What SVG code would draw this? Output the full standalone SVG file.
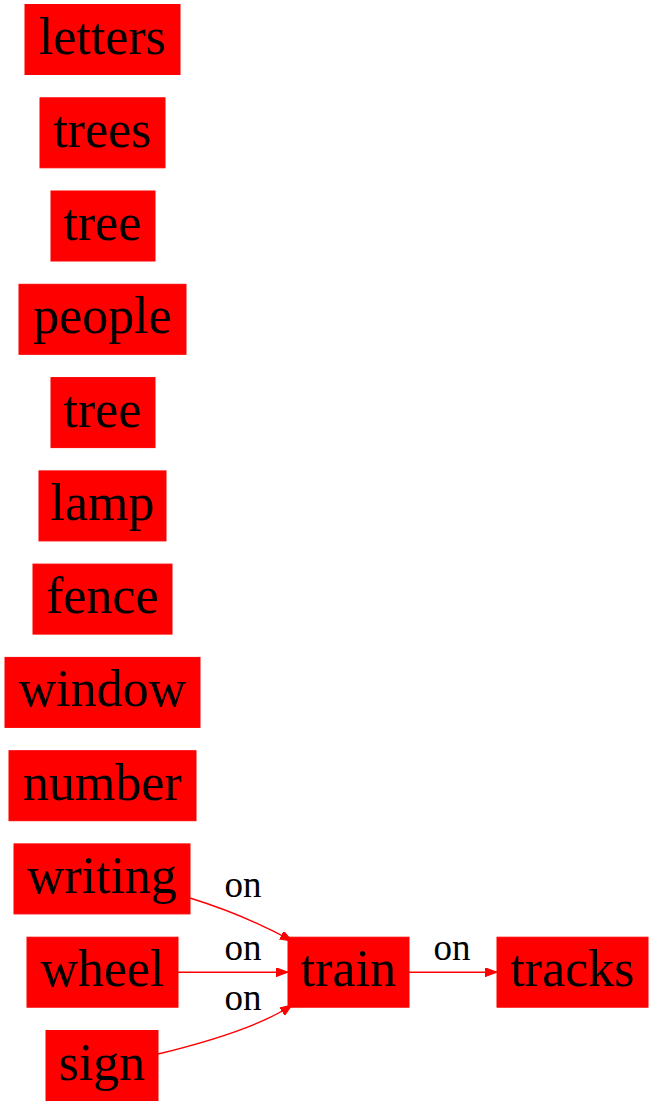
<svg xmlns="http://www.w3.org/2000/svg" width="653" height="1107" viewBox="0 0 653 1107">
<style>
.n rect{fill:#ff0000;stroke:#ff0000;stroke-width:1}
.n text{font-family:"Liberation Serif","Times New Roman",serif;font-size:52px;fill:#000;text-anchor:middle}
.e path{fill:none;stroke:#ff0000;stroke-width:1.4}
.e text{font-family:"Liberation Serif","Times New Roman",serif;font-size:37px;fill:#000;text-anchor:middle}
</style>
<defs>
<marker id="ah" markerUnits="userSpaceOnUse" markerWidth="14" markerHeight="10" refX="12" refY="4.5" orient="auto">
<path d="M0,0 L12,4.5 L0,9 z" fill="#ff0000" stroke="#ff0000" stroke-width="1"/>
</marker>
</defs>
<g id="n_letters" class="n"><rect x="25" y="4.5" width="155" height="70"/><text x="102.5" y="53.5">letters</text></g>
<g id="n_trees" class="n"><rect x="40" y="97.8" width="125" height="70"/><text x="102.5" y="146.8">trees</text></g>
<g id="n_tree1" class="n"><rect x="51" y="191" width="104" height="70"/><text x="102.5" y="240">tree</text></g>
<g id="n_people" class="n"><rect x="19" y="284.3" width="167" height="70"/><text x="102.5" y="333.3">people</text></g>
<g id="n_tree2" class="n"><rect x="51" y="377.6" width="104" height="70"/><text x="102.5" y="426.6">tree</text></g>
<g id="n_lamp" class="n"><rect x="39" y="470.9" width="127" height="70"/><text x="102.5" y="519.9">lamp</text></g>
<g id="n_fence" class="n"><rect x="33" y="564.1" width="139" height="70"/><text x="102.5" y="613.1">fence</text></g>
<g id="n_window" class="n"><rect x="5" y="657.4" width="195" height="70"/><text x="102.5" y="706.4">window</text></g>
<g id="n_number" class="n"><rect x="9" y="750.7" width="187" height="70"/><text x="102.5" y="799.7">number</text></g>
<g id="n_writing" class="n"><rect x="14" y="843.9" width="176" height="70"/><text x="102" y="892.9">writing</text></g>
<g id="n_wheel" class="n"><rect x="27" y="937.2" width="151" height="70"/><text x="102.5" y="986.2">wheel</text></g>
<g id="n_sign" class="n"><rect x="46" y="1030.5" width="112" height="70"/><text x="102" y="1079.5">sign</text></g>
<g id="n_train" class="n"><rect x="288" y="937.2" width="121" height="70"/><text x="348.5" y="986.2">train</text></g>
<g id="n_tracks" class="n"><rect x="497" y="937.2" width="151" height="70"/><text x="572.5" y="986.2">tracks</text></g>
<g id="edges" class="e">
<path d="M190,898 C222,908 258,922 292,941" marker-end="url(#ah)"/>
<text x="243" y="897">on</text>
<path d="M178,972.2 L288,972.2" marker-end="url(#ah)"/>
<text x="243" y="960">on</text>
<path d="M158,1054 C195,1045 258,1028 292,1005" marker-end="url(#ah)"/>
<text x="243" y="1010">on</text>
<path d="M409,972.2 L497,972.2" marker-end="url(#ah)"/>
<text x="452" y="960">on</text>
</g>
</svg>
